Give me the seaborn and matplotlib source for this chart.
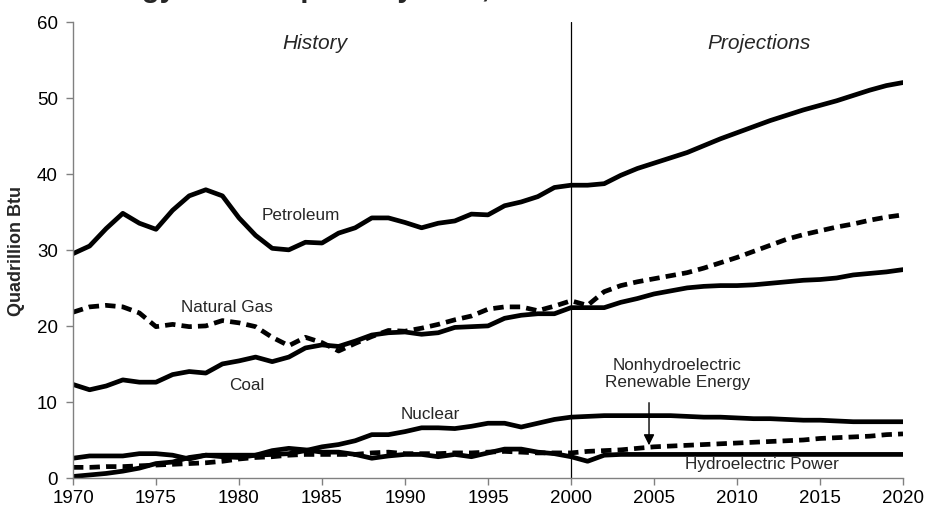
import matplotlib
matplotlib.use("Agg")
import matplotlib.pyplot as plt
import seaborn as sns
import pandas as pd

# --- data (quadrillion Btu) ---
years = list(range(1970, 2021))

petroleum = [29.5, 30.5, 32.8, 34.8, 33.5, 32.7, 35.2, 37.1, 37.9, 37.1,
             34.2, 31.9, 30.2, 30.0, 31.0, 30.9, 32.2, 32.9, 34.2, 34.2,
             33.6, 32.9, 33.5, 33.8, 34.7, 34.6, 35.8, 36.3, 37.0, 38.2,
             38.5, 38.5, 38.7, 39.8, 40.7, 41.4, 42.1, 42.8, 43.7, 44.6,
             45.4, 46.2, 47.0, 47.7, 48.4, 49.0, 49.6, 50.3, 51.0, 51.6,
             52.0]
natural_gas = [21.8, 22.5, 22.7, 22.5, 21.7, 19.9, 20.2, 19.9, 20.0, 20.7,
               20.4, 19.9, 18.5, 17.4, 18.5, 17.8, 16.7, 17.7, 18.6, 19.4,
               19.3, 19.7, 20.2, 20.8, 21.3, 22.2, 22.5, 22.5, 22.0, 22.6,
               23.3, 22.7, 24.5, 25.3, 25.8, 26.2, 26.6, 27.0, 27.6, 28.3,
               29.0, 29.8, 30.6, 31.4, 32.0, 32.5, 33.0, 33.4, 33.9, 34.3,
               34.6]
coal = [12.3, 11.6, 12.1, 12.9, 12.6, 12.6, 13.6, 14.0, 13.8, 15.0,
        15.4, 15.9, 15.3, 15.9, 17.1, 17.5, 17.3, 18.0, 18.8, 19.1,
        19.2, 18.9, 19.1, 19.8, 19.9, 20.0, 21.0, 21.4, 21.6, 21.6,
        22.4, 22.4, 22.4, 23.1, 23.6, 24.2, 24.6, 25.0, 25.2, 25.3,
        25.3, 25.4, 25.6, 25.8, 26.0, 26.1, 26.3, 26.7, 26.9, 27.1,
        27.4]
nuclear = [0.2, 0.4, 0.6, 0.9, 1.3, 1.9, 2.1, 2.7, 3.0, 2.8,
           2.7, 3.0, 3.1, 3.2, 3.6, 4.1, 4.4, 4.9, 5.7, 5.7,
           6.1, 6.6, 6.6, 6.5, 6.8, 7.2, 7.2, 6.7, 7.2, 7.7,
           8.0, 8.1, 8.2, 8.2, 8.2, 8.2, 8.2, 8.1, 8.0, 8.0,
           7.9, 7.8, 7.8, 7.7, 7.6, 7.6, 7.5, 7.4, 7.4, 7.4,
           7.4]
hydro = [2.6, 2.9, 2.9, 2.9, 3.2, 3.2, 3.0, 2.5, 3.0, 3.0,
         3.0, 3.0, 3.6, 3.9, 3.7, 3.4, 3.4, 3.1, 2.6, 2.9,
         3.1, 3.1, 2.8, 3.1, 2.8, 3.3, 3.8, 3.8, 3.4, 3.2,
         2.8, 2.2, 3.0, 3.1, 3.1, 3.1, 3.1, 3.1, 3.1, 3.1,
         3.1, 3.1, 3.1, 3.1, 3.1, 3.1, 3.1, 3.1, 3.1, 3.1,
         3.1]
renewable = [1.4, 1.4, 1.5, 1.5, 1.6, 1.7, 1.8, 1.9, 2.0, 2.2,
             2.5, 2.7, 2.8, 3.0, 3.1, 3.1, 3.1, 3.1, 3.3, 3.4,
             3.2, 3.2, 3.2, 3.3, 3.3, 3.4, 3.5, 3.4, 3.3, 3.3,
             3.3, 3.5, 3.6, 3.7, 3.9, 4.1, 4.2, 4.3, 4.4, 4.5,
             4.6, 4.7, 4.8, 4.9, 5.0, 5.2, 5.3, 5.4, 5.5, 5.7,
             5.8]

fuels = ["Petroleum", "Natural Gas", "Coal", "Nuclear",
         "Hydroelectric Power", "Nonhydroelectric Renewable Energy"]
dashed_fuels = ["Natural Gas", "Nonhydroelectric Renewable Energy"]

# long form table for seaborn
series = [petroleum, natural_gas, coal, nuclear, hydro, renewable]
df = pd.concat(
    [pd.DataFrame({"year": years, "value": vals, "fuel": name})
     for name, vals in zip(fuels, series)],
    ignore_index=True,
)

sns.set_theme(style="ticks")
plt.rcParams["font.family"] = ["Liberation Sans", "DejaVu Sans"]

fig = plt.figure(figsize=(9.37, 5.10), dpi=100)
ax = fig.add_axes([73 / 937, 1 - 479 / 510, 830 / 937, (479 - 22.7) / 510])

sns.lineplot(
    data=df, x="year", y="value", hue="fuel", style="fuel",
    palette={f: "black" for f in fuels},
    dashes={f: ((2.2, 1.3) if f in dashed_fuels else "") for f in fuels},
    linewidth=3.4, legend=False, ax=ax,
)

# history / projections divider
ax.axvline(2000, color="black", linewidth=0.9)

ax.set_xlim(1970, 2020)
ax.set_ylim(0, 60)
ax.set_xticks(range(1970, 2021, 5))
ax.set_yticks(range(0, 61, 10))
ax.set_xlabel("")
ax.set_ylabel("Quadrillion Btu", fontsize=13, fontweight="bold")
ax.yaxis.set_label_coords(-0.058, 0.5)

sns.despine(ax=ax)
for side in ["left", "bottom"]:
    ax.spines[side].set_color("#808080")
    ax.spines[side].set_linewidth(1.0)
ax.tick_params(axis="both", direction="out", length=5, width=1,
               color="#808080", labelsize=13.5, labelcolor="black")
ax.tick_params(axis="y", pad=6)
ax.tick_params(axis="x", pad=3)

# section headings
ax.text(1984.6, 57.2, "History", fontsize=15, style="italic",
        ha="center", va="center")
ax.text(2011.3, 57.2, "Projections", fontsize=15, style="italic",
        ha="center", va="center")

# series labels
ax.text(1983.7, 34.6, "Petroleum", fontsize=12.3, ha="center", va="center")
ax.text(1979.3, 22.6, "Natural Gas", fontsize=12.3, ha="center", va="center")
ax.text(1980.5, 12.3, "Coal", fontsize=12.3, ha="center", va="center")
ax.text(1991.5, 8.5, "Nuclear", fontsize=12.3, ha="center", va="center")
ax.text(2006.4, 13.8, "Nonhydroelectric\nRenewable Energy", fontsize=12.3,
        ha="center", va="center", linespacing=1.15)
ax.text(2011.5, 1.9, "Hydroelectric Power", fontsize=12.3,
        ha="center", va="center")
ax.annotate("", xy=(2004.7, 4.3), xytext=(2004.7, 9.9),
            arrowprops=dict(arrowstyle="-|>", color="black", lw=1,
                            mutation_scale=16, shrinkA=0, shrinkB=0))

# title is cut off at the top edge in the source image
fig.text(77 / 937, 1 + 3 / 510, "Energy Consumption by Fuel, 1970-2020",
         fontsize=21, fontweight="bold", ha="left", va="baseline")

fig.savefig("out.png", dpi=100)
plt.close(fig)
